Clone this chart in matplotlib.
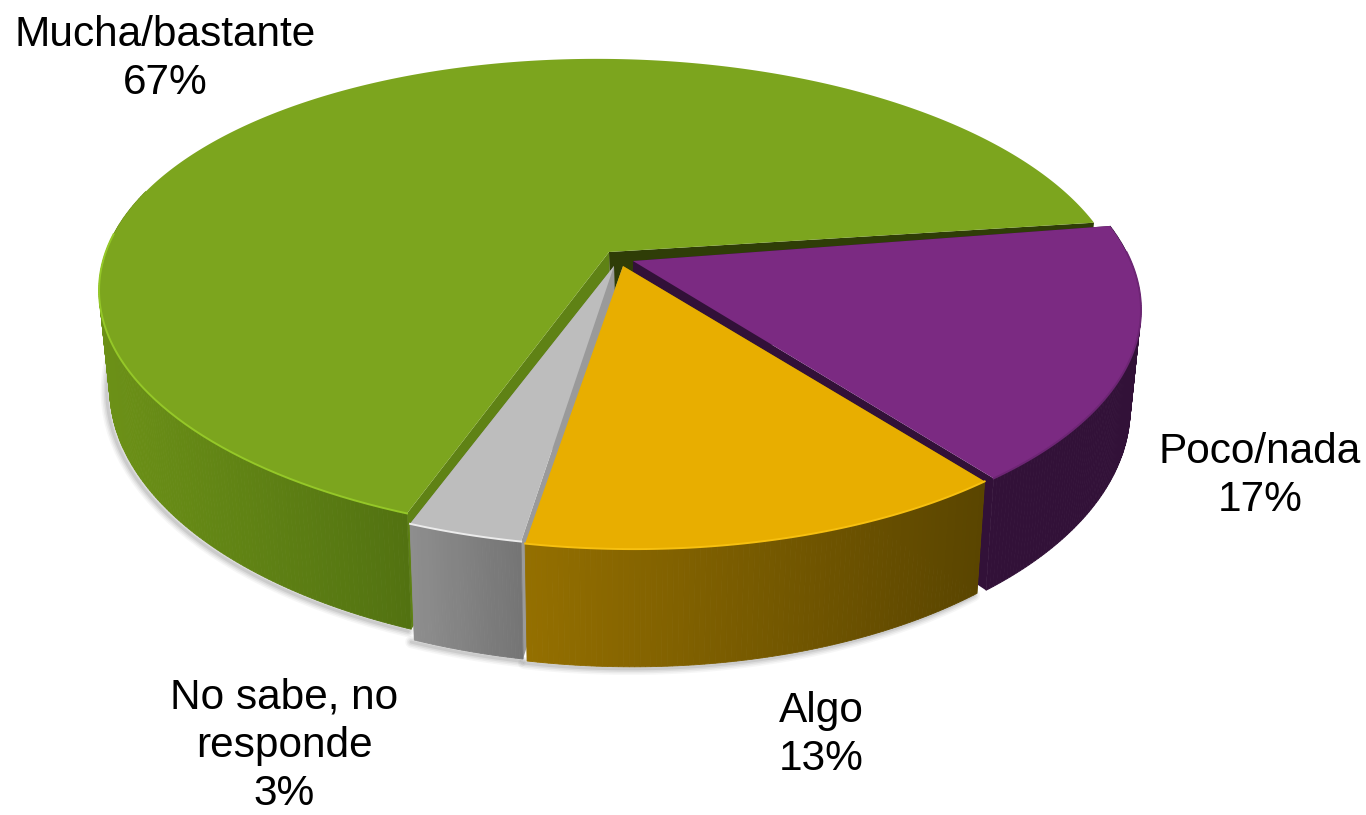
import numpy as np
import matplotlib
matplotlib.use('Agg')
import matplotlib.pyplot as plt
from matplotlib.colors import to_rgb

# datos del grafico
categories = ['Mucha/bastante', 'No sabe, no\nresponde', 'Algo', 'Poco/nada']
values = [67, 3, 13, 17]

# estilo de cada porcion, mismo orden que categories
top_colors = ['#7ca51e', '#bdbdbd', '#e8ae00', '#7b2a82']
rim_colors = ['#95c828', '#ececec', '#f7c010', '#6d2574']
wall_left = ['#6c9117', '#8e8e8e', '#946f00', '#321138']
wall_right = ['#527211', '#747474', '#5a4500', '#321138']
cut_start = ['#2f3d07', '#9a9a9a', '#9a9a9a', '#321138']
cut_end = ['#5f8215', '#9a9a9a', '#946f00', '#321138']
shift_x = [612, 615, 619, 628]
shift_y = [252, 257, 259, 256]
height_scale = [0.98, 1, 1, 1]
tip_x = [609, 614, 623, 633]
tip_y = [252, 266, 266, 261]
draw_order = [0, 1, 3, 2]

label_x = [165, 284, 821, 1260]
label_y = [59, 746, 735, 476]

START = 9.3
K = 0.191
TILT = 0.014
A_TOP, B_TOP = 503.5, 234.6
A_BOT, B_BOT = 493.0, 253.0
DEPTH = 95


def top_rim(theta, i):
    u, v = np.cos(np.radians(theta)), np.sin(np.radians(theta))
    w = 1 + K * v
    dx = A_TOP * u / w
    return shift_x[i] + dx, shift_y[i] - B_TOP * height_scale[i] * v / w + TILT * dx


def bottom_rim(theta, i):
    u, v = np.cos(np.radians(theta)), np.sin(np.radians(theta))
    w = 1 + K * v
    dx = A_BOT * u / w
    return shift_x[i] + dx, shift_y[i] + DEPTH - B_BOT * height_scale[i] * v / w + TILT * dx


def mix(c1, c2, t):
    c1, c2 = np.array(to_rgb(c1)), np.array(to_rgb(c2))
    return tuple(c1 + (c2 - c1) * t)


fig = plt.figure(figsize=(13.66, 8.15), dpi=100)
ax = fig.add_axes([0, 0, 1, 1])
ax.set_xlim(0, 1366)
ax.set_ylim(815, 0)
ax.axis('off')

sweeps = np.array(values) / sum(values) * 360
starts = START + np.concatenate(([0], np.cumsum(sweeps)[:-1]))

# sombra suave debajo del pastel
for width, alpha in zip([16, 12, 8, 4], [0.05, 0.07, 0.09, 0.12]):
    for i in range(len(values)):
        th = np.linspace(starts[i], starts[i] + sweeps[i], 120)
        th = th[np.sin(np.radians(th)) < 0.1]
        if len(th) == 0 or i == 3:
            continue
        bx, by = bottom_rim(th, i)
        ax.plot(bx - 3, by + 2, color='#555555', lw=width * 0.55, alpha=alpha,
                solid_capstyle='round', zorder=1)

z = 2
for i in draw_order:
    th = np.linspace(starts[i], starts[i] + sweeps[i], max(int(sweeps[i] * 2), 30))
    tx, ty = top_rim(th, i)
    bx, by = bottom_rim(th, i)
    floor_x, floor_y = tip_x[i] + 2, tip_y[i] + DEPTH

    # caras de corte
    ax.fill([tip_x[i], tx[0], bx[0], floor_x], [tip_y[i], ty[0], by[0], floor_y],
            color=cut_start[i], lw=0, zorder=z)
    ax.fill([tip_x[i], tx[-1], bx[-1], floor_x], [tip_y[i], ty[-1], by[-1], floor_y],
            color=cut_end[i], lw=0, zorder=z)

    # pared exterior con degradado
    sin_th, cos_th = np.sin(np.radians(th)), np.cos(np.radians(th))
    span = sin_th < 0.25
    if i == 0:
        span = span & (cos_th < 0)
    x_min, x_max = tx[span].min(), tx[span].max()
    for j in range(len(th) - 1):
        if not span[j]:
            continue
        t = (tx[j] - x_min) / max(x_max - x_min, 1)
        col = mix(wall_left[i], wall_right[i], np.clip(t, 0, 1))
        ax.fill([tx[j], tx[j + 1], bx[j + 1], bx[j]], [ty[j], ty[j + 1], by[j + 1], by[j]],
                facecolor=col, edgecolor=col, lw=0.6, zorder=z)

    # cara superior
    ax.fill(np.r_[tip_x[i], tx], np.r_[tip_y[i], ty], color=top_colors[i], lw=0, zorder=z + 0.5)
    front = sin_th < 0.05
    ax.plot(tx[front], ty[front], color=rim_colors[i], lw=1.4, zorder=z + 0.6)
    z += 1

for i in range(len(values)):
    ax.text(label_x[i], label_y[i], f'{categories[i]}\n{values[i]}%', ha='center', va='center',
            fontsize=30.5, family='Liberation Sans', color='black', linespacing=1.27, zorder=20)

fig.savefig('out.png', dpi=100)
